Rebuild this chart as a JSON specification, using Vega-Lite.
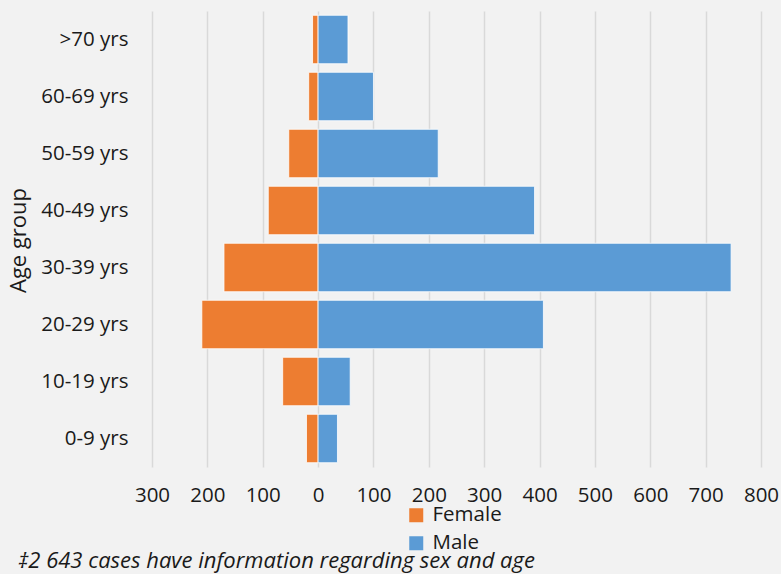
{
  "$schema": "https://vega.github.io/schema/vega-lite/v6.json",
  "width": 609,
  "height": 456,
  "autosize": "none",
  "padding": {"left": 152, "top": 11, "right": 20, "bottom": 107},
  "background": "#f2f2f2",
  "config": {
    "view": {"stroke": null},
    "font": "Open Sans"
  },
  "title": {
    "text": "‡2 643 cases have information regarding sex and age",
    "orient": "bottom",
    "anchor": "start",
    "frame": "group",
    "dx": -134,
    "offset": -3,
    "font": "Open Sans",
    "fontStyle": "italic",
    "fontWeight": "normal",
    "fontSize": 22,
    "color": "#1a1a1a"
  },
  "data": {
    "values": [
      {"age": ">70 yrs", "sex": "Female", "count": -10},
      {"age": "60-69 yrs", "sex": "Female", "count": -17},
      {"age": "50-59 yrs", "sex": "Female", "count": -53},
      {"age": "40-49 yrs", "sex": "Female", "count": -90},
      {"age": "30-39 yrs", "sex": "Female", "count": -170},
      {"age": "20-29 yrs", "sex": "Female", "count": -210},
      {"age": "10-19 yrs", "sex": "Female", "count": -64},
      {"age": "0-9 yrs", "sex": "Female", "count": -21},
      {"age": ">70 yrs", "sex": "Male", "count": 54},
      {"age": "60-69 yrs", "sex": "Male", "count": 100},
      {"age": "50-59 yrs", "sex": "Male", "count": 217},
      {"age": "40-49 yrs", "sex": "Male", "count": 391},
      {"age": "30-39 yrs", "sex": "Male", "count": 746},
      {"age": "20-29 yrs", "sex": "Male", "count": 407},
      {"age": "10-19 yrs", "sex": "Male", "count": 58},
      {"age": "0-9 yrs", "sex": "Male", "count": 35}
    ]
  },
  "mark": {"type": "bar", "stroke": "white", "strokeWidth": 0.8},
  "encoding": {
    "y": {
      "field": "age",
      "type": "nominal",
      "sort": [">70 yrs", "60-69 yrs", "50-59 yrs", "40-49 yrs", "30-39 yrs", "20-29 yrs", "10-19 yrs", "0-9 yrs"],
      "scale": {"paddingInner": 0.15, "paddingOuter": 0.075},
      "axis": {
        "title": "Age group",
        "titleFont": "Open Sans",
        "titleFontSize": 22,
        "titleFontWeight": "normal",
        "titleColor": "#1a1a1a",
        "titleAngle": -90,
        "titleX": -134,
        "titleY": 229,
        "titleAlign": "center",
        "titleBaseline": "middle",
        "labelFont": "Open Sans",
        "labelFontSize": 20.5,
        "labelColor": "#1a1a1a",
        "labelPadding": 24,
        "domain": false,
        "ticks": false,
        "grid": false
      }
    },
    "x": {
      "field": "count",
      "type": "quantitative",
      "scale": {"domain": [-300, 800], "nice": false},
      "axis": {
        "title": null,
        "values": [-300, -200, -100, 0, 100, 200, 300, 400, 500, 600, 700, 800],
        "labelExpr": "abs(datum.value)",
        "labelFont": "Open Sans",
        "labelFontSize": 20.5,
        "labelColor": "#1a1a1a",
        "labelPadding": 18,
        "labelFlush": false,
        "labelOverlap": false,
        "domain": false,
        "ticks": false,
        "grid": true,
        "gridColor": "#d9d9d9",
        "gridWidth": 1.5
      }
    },
    "color": {
      "field": "sex",
      "type": "nominal",
      "scale": {"domain": ["Female", "Male"], "range": ["#ED7D31", "#5B9BD5"]},
      "legend": {
        "title": null,
        "orient": "none",
        "direction": "vertical",
        "legendX": 254,
        "legendY": 494,
        "symbolType": "square",
        "symbolSize": 196,
        "symbolStrokeWidth": 0,
        "labelFont": "Open Sans",
        "labelFontSize": 20.5,
        "labelColor": "#1a1a1a",
        "labelOffset": 6,
        "rowPadding": 7
      }
    }
  }
}
